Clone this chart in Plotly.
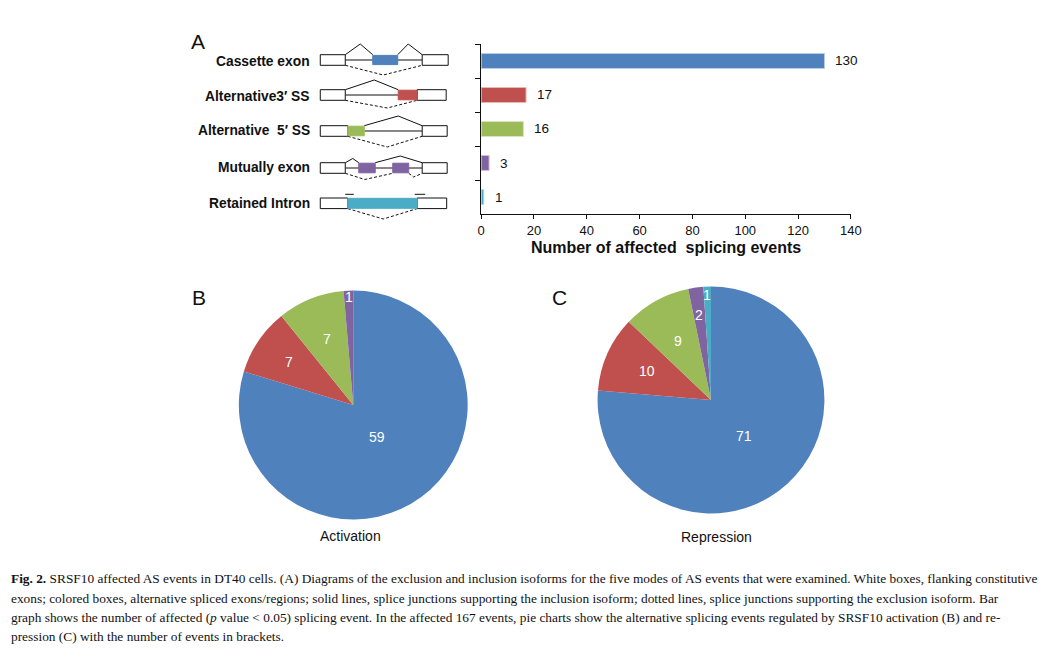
import math
import plotly.graph_objects as go

# Figure size and the observed page->screen mapping of the renderer
FW, FH = 1055, 651
SX, OX, OY = 0.9865, 11.5, 8.0

# ---------------- data ----------------
categories = ["Cassette exon", "Alternative3\u2032 SS", "Alternative\u00a0 5\u2032 SS",
              "Mutually exon", "Retained Intron"]
event_counts = [130, 17, 16, 3, 1]
x_tick_values = [0, 20, 40, 60, 80, 100, 120, 140]
colors = ["#4F81BD", "#C0504D", "#9BBB59", "#8064A2", "#4BACC6"]
edge_colors = ["#B9CDE5", "#E6B9B8", "#D7E4BD", "#CCC1DA", "#B7DEE8"]

activation_values = [59, 7, 7, 1]
repression_values = [71, 10, 9, 2, 1]
activation_title = "Activation"
repression_title = "Repression"

caption_lines = [
    "<b>Fig. 2.</b> SRSF10 affected AS events in DT40 cells. (A) Diagrams of the exclusion and inclusion isoforms for the five modes of AS events that were examined. White boxes, flanking constitutive",
    "exons; colored boxes, alternative spliced exons/regions; solid lines, splice junctions supporting the inclusion isoform; dotted lines, splice junctions supporting the exclusion isoform. Bar",
    "graph shows the number of affected (<i>p</i> value &lt; 0.05) splicing event. In the affected 167 events, pie charts show the alternative splicing events regulated by SRSF10 activation (B) and re-",
    "pression (C) with the number of events in brackets.",
]

# ---------------- helpers (target pixel -> paper) ----------------
def px(x):
    return ((x - OX) / SX) / FW

def py(y):
    return 1 - (y - OY) / FH

SANS = "Liberation Sans, Arial, sans-serif"
SERIF = "Liberation Serif, Times New Roman, serif"
INK = "#111"

fig = go.Figure()

# ---------------- bar chart (panel A) ----------------
fig.add_trace(go.Bar(
    x=event_counts, y=categories, orientation="h",
    marker=dict(color=colors, line=dict(color=edge_colors, width=1)),
    width=0.44, hoverinfo="x+y", showlegend=False,
    xaxis="x", yaxis="y",
))

annotations = []
for cat, val in zip(categories, event_counts):
    annotations.append(dict(x=val, y=cat, xref="x", yref="y", text=str(val),
                            showarrow=False, xanchor="left", xshift=9,
                            font=dict(family=SANS, size=13.5, color=INK)))

# ---------------- pies (panels B, C) ----------------
pie_specs = [
    (activation_values, colors[:len(activation_values)], (353, 405), 114,
     [0.35, 0.68, 0.62, 0.95], activation_title, (350, 536)),
    (repression_values, colors[:len(repression_values)], (711, 400), 113,
     [0.43, 0.62, 0.60, 0.76, 0.93], repression_title, (717, 537)),
]
PIE_PAD = 0.5
for vals, cols, (cx, cy), r, fracs, title, (tx, ty) in pie_specs:
    rr = r + PIE_PAD
    fig.add_trace(go.Pie(
        values=vals, marker=dict(colors=cols, line=dict(width=0)),
        sort=False, direction="clockwise", rotation=0,
        textinfo="none", showlegend=False, hoverinfo="value",
        domain=dict(x=[px(cx - rr), px(cx + rr)], y=[py(cy + rr), py(cy - rr)]),
    ))
    total = sum(vals)
    cum = 0.0
    for v, f in zip(vals, fracs):
        mid = (cum + v / 2) / total * 2 * math.pi
        cum += v
        lx = cx + f * r * math.sin(mid)
        ly = cy - f * r * math.cos(mid)
        annotations.append(dict(x=px(lx), y=py(ly), xref="paper", yref="paper",
                                text=str(v), showarrow=False,
                                xanchor="center", yanchor="middle",
                                font=dict(family=SANS, size=14, color="white")))
    annotations.append(dict(x=px(tx), y=py(ty), xref="paper", yref="paper",
                            text=title, showarrow=False,
                            xanchor="center", yanchor="middle",
                            font=dict(family=SANS, size=14, color=INK)))

# ---------------- panel letters ----------------
for letter, (lx, ly) in [("A", (198, 41)), ("B", (199, 297)), ("C", (559, 298))]:
    annotations.append(dict(x=px(lx), y=py(ly), xref="paper", yref="paper",
                            text=letter, showarrow=False, xanchor="center",
                            yanchor="middle",
                            font=dict(family=SANS, size=21, color=INK)))

# ---------------- category labels beside diagrams ----------------
label_rows = [61, 96, 131, 168, 204]
for cat, yy in zip(categories, label_rows):
    annotations.append(dict(x=px(312), y=py(yy), xref="paper", yref="paper",
                            text="<b>%s</b>" % cat, showarrow=False,
                            xanchor="right", yanchor="middle",
                            font=dict(family=SANS, size=13.8, color=INK)))

# ---------------- caption ----------------
caption_y = [578, 598, 617, 636]
for line, yy in zip(caption_lines, caption_y):
    annotations.append(dict(x=px(8), y=py(yy), xref="paper", yref="paper",
                            text=line, showarrow=False, xanchor="left",
                            yanchor="middle",
                            font=dict(family=SERIF, size=13.35, color=INK)))

# ---------------- splicing diagrams (schematic illustration) ----------------
shapes = []

def rect(x0, x1, y0, y1, fill, line=True):
    shapes.append(dict(type="rect", xref="paper", yref="paper",
                       x0=px(x0), x1=px(x1), y0=py(y1), y1=py(y0),
                       fillcolor=fill,
                       line=dict(color=INK if line else fill, width=1)))

def path(points, dash="solid"):
    d = "M " + " L ".join("%f,%f" % (px(a), py(b)) for a, b in points)
    shapes.append(dict(type="path", xref="paper", yref="paper", path=d,
                       line=dict(color=INK, width=1, dash=dash)))

DASH = "3px,2px"
hh = 5.3

# Cassette exon
yc = 60
t, b = yc - hh, yc + hh
path([(345, yc), (422, yc)])
path([(345, t), (360, 44), (372.5, t)])
path([(397.5, t), (408, 44), (422, t)])
path([(345, b), (383, 75), (422, b)], dash=DASH)
rect(320, 345, t, b, "white")
rect(422, 448, t, b, "white")
rect(372.5, 397.5, t + 0.7, b - 0.7, colors[0], line=False)

# Alternative 3' SS
yc = 95
t, b = yc - hh, yc + hh
path([(345, yc), (398, yc)])
path([(345, t), (374, 80), (398, t)])
path([(345, b), (387, 108), (417, b)], dash=DASH)
rect(320, 345, t, b, "white")
rect(417, 446, t, b, "white")
rect(398, 417, t + 0.5, b - 0.5, colors[1], line=False)

# Alternative 5' SS
yc = 131
t, b = yc - hh, yc + hh
path([(364, yc), (422, yc)])
path([(364, t), (398, 116), (422, t)])
path([(347.5, b), (387, 147), (422, b)], dash=DASH)
rect(320, 347.5, t, b, "white")
rect(422, 447, t, b, "white")
rect(347.5, 364, t + 0.5, b - 0.5, colors[2], line=False)

# Mutually exclusive exons
yc = 168
t, b = yc - hh, yc + hh
path([(345, yc), (422, yc)])
path([(345, t), (352.5, 158.5), (358.5, t)])
path([(375, t), (400, 156), (422, t)])
path([(345, b), (364.5, 179.5), (392.5, b)], dash=DASH)
path([(408.5, b), (413.5, 177), (422, b)], dash=DASH)
rect(320, 345, t, b, "white")
rect(422, 447, t, b, "white")
rect(358.5, 375, t + 0.5, b - 0.5, colors[3], line=False)
rect(392.5, 408.5, t + 0.5, b - 0.5, colors[3], line=False)

# Retained intron
yc = 203.3
t, b = yc - hh, yc + hh
path([(347.5, b), (383, 219), (417, b)], dash=DASH)
path([(345, 194.3), (353.5, 194.3)])
path([(414.5, 194.3), (425, 194.3)])
rect(320, 347.5, t, b, "white")
rect(417, 446.5, t, b, "white")
rect(347.5, 417, t + 0.3, b - 0.3, colors[4], line=False)

# ---------------- layout ----------------
fig.update_layout(
    width=FW, height=FH,
    margin=dict(l=0, r=0, t=0, b=0),
    paper_bgcolor="white", plot_bgcolor="white",
    font=dict(family=SANS, size=13, color=INK),
    xaxis=dict(domain=[px(481), px(851)], range=[0, 140], tickvals=x_tick_values,
               ticks="outside", ticklen=4, tickcolor=INK, showline=True,
               linecolor=INK, linewidth=1, showgrid=False, zeroline=False,
               tickfont=dict(family=SANS, size=13, color=INK),
               title=dict(text="<b>Number of affected\u00a0 splicing events</b>",
                          font=dict(family=SANS, size=16, color=INK),
                          standoff=5),
               anchor="y", fixedrange=True),
    yaxis=dict(domain=[py(214), py(44)], type="category",
               categoryorder="array", categoryarray=categories,
               range=[4.5, -0.5], ticks="outside", tickson="boundaries",
               ticklen=5, tickcolor=INK, showticklabels=False,
               showline=True, linecolor=INK, linewidth=1,
               showgrid=False, zeroline=False, anchor="x", fixedrange=True),
    annotations=annotations,
    shapes=shapes,
)

fig.write_html("out.html")
